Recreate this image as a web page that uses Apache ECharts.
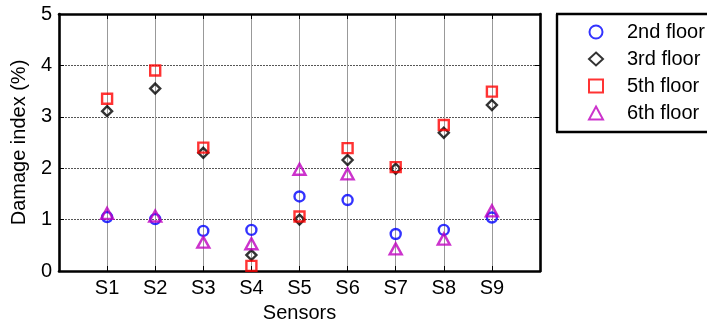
<!DOCTYPE html>
<html>
<head>
<meta charset="utf-8">
<script src="https://cdn.jsdelivr.net/npm/echarts@6/dist/echarts.min.js"></script>
<style>
html,body{margin:0;padding:0;background:#fff;overflow:hidden;}
#c{width:707px;height:329px;}
</style>
</head>
<body>
<div id="c"></div>
<script>
const categories = ['S1','S2','S3','S4','S5','S6','S7','S8','S9'];
const floor2 = [1.05, 1.01, 0.78, 0.80, 1.45, 1.38, 0.72, 0.80, 1.04];
const floor3 = [3.11, 3.55, 2.30, 0.31, 1.00, 2.16, 1.99, 2.69, 3.23];
const floor5 = [3.35, 3.90, 2.40, 0.10, 1.06, 2.39, 2.02, 2.84, 3.49];
const floor6 = [1.12, 1.07, 0.56, 0.53, 1.98, 1.89, 0.43, 0.62, 1.17];
const yTicks = [0, 1, 2, 3, 4, 5];

const FONT = 'Liberation Sans, Arial, sans-serif';
const FS = 20;
const toPts = arr => categories.map((c, i) => [i + 1, arr[i]]);

function mk(name, data, symbol, size, color) {
  return {
    name: name, type: 'scatter', data: toPts(data),
    symbol: symbol, symbolSize: size,
    itemStyle: { color: 'rgba(0,0,0,0)', borderColor: color, borderWidth: 2.4 },
    emphasis: { disabled: true }
  };
}
const boxLine = (x1, y1, x2, y2) => ({
  type: 'line', silent: true, z: 0,
  shape: { x1: x1, y1: y1, x2: x2, y2: y2 },
  style: { stroke: '#000', lineWidth: 2.4 }
});

const chart = echarts.init(document.getElementById('c'), null, { renderer: 'canvas' });
chart.setOption({
  animation: false,
  backgroundColor: '#fff',
  textStyle: { fontFamily: FONT },
  grid: { left: 59, right: 167, top: 14, bottom: 58 },
  graphic: [
    boxLine(556, 14, 760, 14),
    boxLine(557, 14, 557, 132),
    boxLine(556, 132, 760, 132)
  ],
  legend: {
    orient: 'vertical', left: 557, top: 14, z: 5,
    padding: [8, 5, 9, 31],
    borderWidth: 0, backgroundColor: 'transparent',
    itemWidth: 14, itemHeight: 13, itemGap: 7,
    textStyle: { fontSize: FS, color: '#000', fontFamily: FONT, lineHeight: 20, padding: [0, 0, 0, 19] },
    data: ['2nd floor', '3rd floor', '5th floor', '6th floor']
  },
  xAxis: [{
    type: 'value', min: 0, max: 10, interval: 1,
    name: 'Sensors', nameLocation: 'middle', nameGap: 32,
    nameTextStyle: { fontSize: FS, color: '#000', fontFamily: FONT },
    axisLine: { onZero: false, lineStyle: { color: '#000', width: 2.6 } },
    axisTick: { inside: true, length: 5, lineStyle: { color: '#000' } },
    axisLabel: { fontSize: FS, color: '#000', margin: 7, fontFamily: FONT,
      formatter: v => categories[v - 1] || '' },
    splitLine: { show: true, lineStyle: { color: '#999', width: 1, type: 'solid' } }
  }, {
    type: 'value', min: 0, max: 10, interval: 1, position: 'top',
    axisLine: { onZero: false, lineStyle: { color: '#000', width: 2.6 } },
    axisTick: { inside: true, length: 5, lineStyle: { color: '#000' } },
    axisLabel: { show: false }, splitLine: { show: false }
  }],
  yAxis: [{
    type: 'value', min: yTicks[0], max: yTicks[yTicks.length - 1], interval: 1,
    name: 'Damage index (%)', nameLocation: 'middle', nameGap: 26,
    nameTextStyle: { fontSize: FS, color: '#000', fontFamily: FONT },
    axisLine: { show: true, onZero: false, lineStyle: { color: '#000', width: 2.6 } },
    axisTick: { show: true, inside: true, length: 5, lineStyle: { color: '#000' } },
    axisLabel: { fontSize: FS, color: '#000', margin: 7, fontFamily: FONT },
    splitLine: { show: true, lineStyle: { color: '#555', width: 1, type: [2, 1] } }
  }, {
    type: 'value', min: 0, max: 5, interval: 1, position: 'right',
    axisLine: { show: true, onZero: false, lineStyle: { color: '#000', width: 2.6 } },
    axisTick: { show: true, inside: true, length: 5, lineStyle: { color: '#000' } },
    axisLabel: { show: false }, splitLine: { show: false }
  }],
  series: [
    mk('2nd floor', floor2, 'circle', 10, '#0000ff'),
    mk('3rd floor', floor3, 'diamond', [10, 10], '#000000'),
    mk('5th floor', floor5, 'rect', 10, '#ff0000'),
    mk('6th floor', floor6, 'triangle', [12, 11], '#bf00bf')
  ]
});
</script>
</body>
</html>
